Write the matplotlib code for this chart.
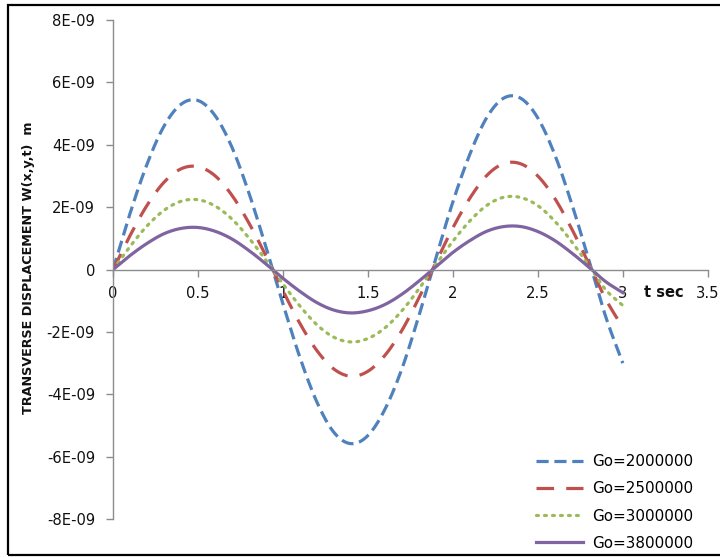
import matplotlib
matplotlib.use("Agg")
import matplotlib.pyplot as plt
from matplotlib.patches import Rectangle
import numpy as np

# time samples (s) and displacement W (m) for each Go value
t = [0.0, 0.1, 0.2, 0.3, 0.4, 0.5, 0.6, 0.7, 0.8, 0.9, 1.0,
     1.1, 1.2, 1.3, 1.4, 1.5, 1.6, 1.7, 1.8, 1.9, 2.0,
     2.1, 2.2, 2.3, 2.4, 2.5, 2.6, 2.7, 2.8, 2.9, 3.0]

w_2000000 = [0, 1.80, 3.38, 4.60, 5.30, 5.42, 4.94, 3.92, 2.45, 0.72, -1.10,
             -2.82, -4.25, -5.22, -5.58, -5.32, -4.48, -3.18, -1.48, 0.37, 2.17,
             3.70, 4.88, 5.50, 5.49, 4.86, 3.68, 2.10, 0.31, -1.52, -3.00]
w_2500000 = [0, 1.09, 2.06, 2.80, 3.23, 3.30, 3.01, 2.38, 1.49, 0.44, -0.68,
             -1.73, -2.60, -3.19, -3.42, -3.26, -2.75, -1.95, -0.91, 0.23, 1.34,
             2.29, 3.02, 3.40, 3.39, 3.00, 2.28, 1.30, 0.19, -0.95, -1.86]
w_3000000 = [0, 0.74, 1.40, 1.90, 2.19, 2.24, 2.04, 1.62, 1.01, 0.30, -0.46,
             -1.17, -1.77, -2.17, -2.32, -2.21, -1.87, -1.32, -0.62, 0.16, 0.91,
             1.56, 2.06, 2.32, 2.31, 2.05, 1.55, 0.89, 0.13, -0.65, -1.15]
w_3800000 = [0, 0.45, 0.84, 1.15, 1.32, 1.35, 1.23, 0.98, 0.61, 0.18, -0.28,
             -0.70, -1.06, -1.30, -1.39, -1.32, -1.12, -0.79, -0.37, 0.09, 0.55,
             0.93, 1.23, 1.38, 1.38, 1.22, 0.93, 0.53, 0.08, -0.39, -0.74]

labels = ["Go=2000000", "Go=2500000", "Go=3000000", "Go=3800000"]
x_ticks = [0, 0.5, 1, 1.5, 2, 2.5, 3, 3.5]
x_ticklabels = ["0", "0.5", "1", "1.5", "2", "2.5", "3", "3.5"]
y_ticks = [-8, -6, -4, -2, 0, 2, 4, 6, 8]
y_ticklabels = ["-8E-09", "-6E-09", "-4E-09", "-2E-09", "0",
                "2E-09", "4E-09", "6E-09", "8E-09"]


def smooth(x, y, n=12):
    # Catmull-Rom curve through the points, like a "smoothed line" series
    x = np.asarray(x, float)
    y = np.asarray(y, float)
    px = np.concatenate([[2 * x[0] - x[1]], x, [2 * x[-1] - x[-2]]])
    py = np.concatenate([[2 * y[0] - y[1]], y, [2 * y[-1] - y[-2]]])
    s = np.linspace(0, 1, n, endpoint=False)
    xs, ys = [], []
    for i in range(1, len(px) - 2):
        for p, out in ((px, xs), (py, ys)):
            p0, p1, p2, p3 = p[i - 1], p[i], p[i + 1], p[i + 2]
            out.append(0.5 * (2 * p1 + (-p0 + p2) * s
                              + (2 * p0 - 5 * p1 + 4 * p2 - p3) * s ** 2
                              + (-p0 + 3 * p1 - 3 * p2 + p3) * s ** 3))
    xs.append([x[-1]])
    ys.append([y[-1]])
    return np.concatenate(xs), np.concatenate(ys)


fig = plt.figure(figsize=(7.2, 5.57), dpi=100)
ax = fig.add_axes([0.157, 0.068, 0.826, 0.896])

scale = 1e-9
series = [w_2000000, w_2500000, w_3000000, w_3800000]
styles = [
    dict(color="#4F81BD", dashes=(3.8, 1.8)),
    dict(color="#C0504D", dashes=(5.5, 3.8)),
    dict(color="#9BBB59", dashes=(0.6, 1.9), dash_capstyle="round"),
    dict(color="#8064A2", linestyle="-"),
]
for w, lab, st in zip(series, labels, styles):
    xs, ys = smooth(t, [v * scale for v in w])
    ax.plot(xs, ys, lw=2.3, label=lab, **st)

ax.set_xlim(0, 3.5)
ax.set_ylim(-8e-9, 8e-9)

ax.spines["top"].set_visible(False)
ax.spines["right"].set_visible(False)
ax.spines["bottom"].set_position(("data", 0))
for s in ("left", "bottom"):
    ax.spines[s].set_color("#8c8c8c")
    ax.spines[s].set_linewidth(1.0)

ax.set_xticks(x_ticks)
ax.set_xticklabels(x_ticklabels)
ax.set_yticks([v * scale for v in y_ticks])
ax.set_yticklabels(y_ticklabels)
ax.tick_params(axis="both", direction="out", length=5, width=1,
               color="#8c8c8c", labelsize=10.6, labelcolor="#111111")
ax.tick_params(axis="x", pad=7)
ax.tick_params(axis="y", pad=8)

ax.text(3.24, -0.72e-9, "t sec", fontsize=10.5, fontweight="bold",
        ha="center", va="center", color="#111111")

fig.text(0.040, 1 - 268 / 557, "TRANSVERSE DISPLACEMENT W(x,y,t)  m",
         rotation=90, ha="center", va="center", fontsize=9.2,
         fontweight="bold", family=["Liberation Sans Narrow", "DejaVu Sans"],
         color="#111111")

leg = fig.legend(loc="lower right", bbox_to_anchor=(0.982, -0.013),
                 frameon=False, fontsize=10.9, handlelength=3.1,
                 labelspacing=0.8, handletextpad=0.6)

# black frame round the whole chart
fig.patches.append(Rectangle((0.011, 0.004), 1.2, 0.987, transform=fig.transFigure,
                             fill=False, ec="black", lw=1.6))

fig.savefig("out.png", dpi=100)
